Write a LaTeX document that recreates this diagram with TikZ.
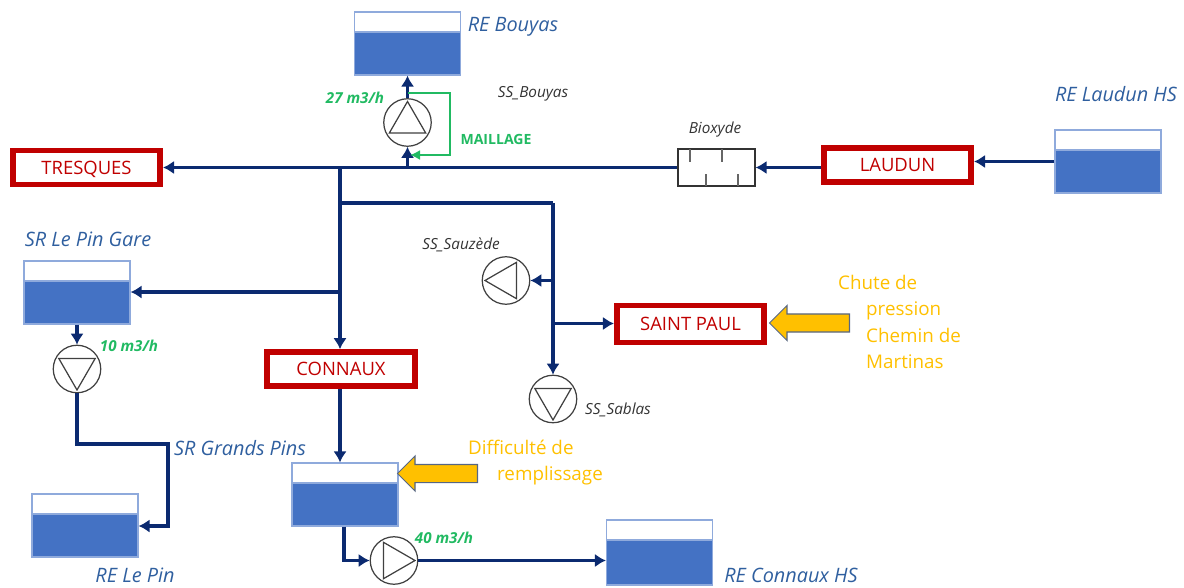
\documentclass[tikz,border=0pt]{standalone}
\usepackage{fontspec}
\setmainfont{Open Sans}
\usetikzlibrary{arrows.meta,shapes.arrows}
\definecolor{pipeblue}{HTML}{0B2A70}
\definecolor{waterblue}{HTML}{4472C4}
\definecolor{tankedge}{HTML}{8FAADC}
\definecolor{sitered}{HTML}{C00000}
\definecolor{labelblue}{HTML}{2F5F9F}
\definecolor{flowgreen}{HTML}{21BA62}
\definecolor{alertyellow}{HTML}{FFC000}
\tikzset{
	pipe/.style={draw=pipeblue, line width=2.2pt},
	flow/.style={pipe, -{Latex[length=0.22cm,width=0.27cm]}},
	meshline/.style={draw=flowgreen, line width=1pt, -{Latex[length=0.2cm,width=0.2cm]}},
	tank/.style={draw=tankedge, line width=0.7pt, fill=waterblue, minimum width=2.12cm, minimum height=1.26cm,
		path picture={\fill[white] (path picture bounding box.north west) rectangle ([yshift=-0.4cm]path picture bounding box.north east);
			\draw[tankedge, line width=0.7pt] ([yshift=-0.4cm]path picture bounding box.north west) -- ([yshift=-0.4cm]path picture bounding box.north east);}},
	site/.style={draw=sitered, line width=3.2pt, text=sitered, minimum width=2.95cm, minimum height=0.68cm, text depth=0pt, font=\fontsize{10.5}{12}\selectfont},
	pump/.style={draw=black!75, fill=white, line width=0.7pt, circle, minimum size=0.95cm, inner sep=0pt,
		path picture={\draw[black!75, line width=0.7pt, shift={(path picture bounding box.center)}] ({90+#1}:0.42cm) -- ({210+#1}:0.42cm) -- ({330+#1}:0.42cm) -- cycle;}},
	tanklabel/.style={text=labelblue, font=\fontsize{11.3}{13}\selectfont\itshape},
	stationlabel/.style={text=black!80, font=\fontsize{8.7}{10}\selectfont\itshape},
	ratelabel/.style={text=flowgreen, font=\fontsize{8.6}{10}\selectfont\bfseries\itshape},
	alertlabel/.style={text=alertyellow, align=left, font=\fontsize{10.7}{15}\selectfont},
	alertarrow/.style={draw=tankedge!60!black, fill=alertyellow, line width=0.6pt, single arrow, shape border rotate=180, inner sep=0pt,
		text height=0.34cm, text depth=0pt, single arrow head extend=0.17cm, minimum height=1.6cm}
}

\begin{document}
\begin{tikzpicture}[x=0.02cm, y=-0.02cm]
	\useasboundingbox (0,0) rectangle (1184,588);

	% Tanks
	\node[tank] (bouyas) at (407.5,43.5) {};
	\node[tank] (laudunhs) at (1108,161.5) {};
	\node[tank] (pingare) at (77,292.5) {};
	\node[tank] (lepin) at (85,525.5) {};
	\node[tank] (grandspins) at (345,494.5) {};
	\node[tank, minimum height=1.3cm] (connauxhs) at (659.5,552.5) {};

	% Sites
	\node[site] (tresques) at (86.5,167.5) {TRESQUES};
	\node[site] (laudun) at (897.5,165) {LAUDUN};
	\node[site, minimum height=0.74cm] (saintpaul) at (690.5,324) {SAINT PAUL};
	\node[site] (connaux) at (341,369) {CONNAUX};

	% Pumps
	\node[pump=0] (ppbouyas) at (407.5,122.5) {};
	\node[pump=90] (ppsauzede) at (506,280.5) {};
	\node[pump=180] (ppsablas) at (553,399) {};
	\node[pump=180] (pppingare) at (77,369) {};
	\node[pump=-90] (ppconnaux) at (394,560.5) {};

	% Bioxyde
	\node[draw=black!80, line width=0.7pt, minimum width=1.54cm, minimum height=0.74cm] (bioxyde) at (716.5,167.5) {};
	\draw[black!60, line width=0.7pt] (690,149) -- (690,162) (722,149) -- (722,162) (706,186) -- (706,174) (738,186) -- (738,174);

	% Junctions
	\coordinate (jbouyas) at (407.5,167.5);
	\coordinate (jmain) at (340,167.5);
	\coordinate (jpingare) at (340,292);
	\coordinate (jupper) at (340,203);
	\coordinate (jcorner) at (553,203);
	\coordinate (jsauzede) at (553,280.5);
	\coordinate (jsaint) at (553,323.5);
	\coordinate (cpin1) at (77,444);
	\coordinate (cpin2) at (168,444);
	\coordinate (cpin3) at (168,526);
	\coordinate (cconnaux) at (344,560.5);
	\coordinate (meshout) at (408,93);
	\coordinate (meshright) at (450,93);
	\coordinate (meshlow) at (450,155);
	\coordinate (meshin) at (410,155);

	% Main line
	\draw[flow] (laudunhs.west) -- (laudun.east |- laudunhs.west);
	\draw[flow] (laudun.west |- bioxyde.east) -- (bioxyde.east);
	\draw[flow] (bioxyde.west) -- (jbouyas) -- (jmain) -- (tresques.east);
	\draw[flow] (jbouyas) -- (ppbouyas.south);
	\draw[flow] (ppbouyas.north) -- (bouyas.south);
	\draw[meshline] (meshout) -- (meshright) -- (meshlow) -- (meshin);

	% West branches
	\draw[flow] (jmain) -- (jmain |- connaux.north);
	\draw[flow] (jpingare) -- (pingare.east |- jpingare);
	\draw[flow] (pingare.south) -- (pppingare.north);
	\draw[flow] (pppingare.south) -- (cpin1) -- (cpin2) -- (cpin3) -- (lepin.east |- cpin3);
	\draw[flow] (connaux.south -| jmain) -- (jmain |- grandspins.north);
	\draw[flow] (cconnaux |- grandspins.south) -- (cconnaux) -- (ppconnaux.west);
	\draw[flow] (ppconnaux.east) -- (connauxhs.west |- ppconnaux.east);

	% East branches
	\draw[pipe] (jupper) -- (jcorner);
	\draw[flow] (jcorner) -- (ppsablas.north);
	\draw[flow] (jsauzede) -- (ppsauzede.east);
	\draw[flow] (jsaint) -- (saintpaul.west |- jsaint);

	% Alerts
	\node[alertarrow] (alertsaint) at (814,323) {};
	\node[alertarrow] (alertgrands) at (442,473.5) {};
	\node[alertlabel, anchor=north west] (alertsainttext) at (832,269) {Chute de\\\hspace*{0.56cm}pression\\\hspace*{0.56cm}Chemin de\\\hspace*{0.56cm}Martinas};
	\node[alertlabel, anchor=north west] (alertgrandstext) at (462,434) {Difficulté de\\\hspace*{0.58cm}remplissage};

	% Labels
	\node[tanklabel] (lbouyas) at (513,27) {RE Bouyas};
	\node[tanklabel] (llaudunhs) at (1116,94) {RE Laudun HS};
	\node[tanklabel] (lpingare) at (88,239) {SR Le Pin Gare};
	\node[tanklabel] (lgrands) at (240,448) {SR Grands Pins};
	\node[tanklabel] (llepin) at (135,575) {RE Le Pin};
	\node[tanklabel] (lconnauxhs) at (791,575) {RE Connaux HS};
	\node[stationlabel] (sbouyas) at (533,94) {SS\_Bouyas};
	\node[stationlabel] (sbioxyde) at (715,130) {Bioxyde};
	\node[stationlabel] (ssauzede) at (461,245) {SS\_Sauzède};
	\node[stationlabel] (ssablas) at (618,410) {SS\_Sablas};
	\node[ratelabel] (r27) at (355,98) {27 m3/h};
	\node[ratelabel] (r10) at (129,346) {10 m3/h};
	\node[ratelabel] (r40) at (444,538) {40 m3/h};
	\node[text=flowgreen, font=\fontsize{8}{10}\selectfont\bfseries] (lmesh) at (496,139) {MAILLAGE};
\end{tikzpicture}
\end{document}
